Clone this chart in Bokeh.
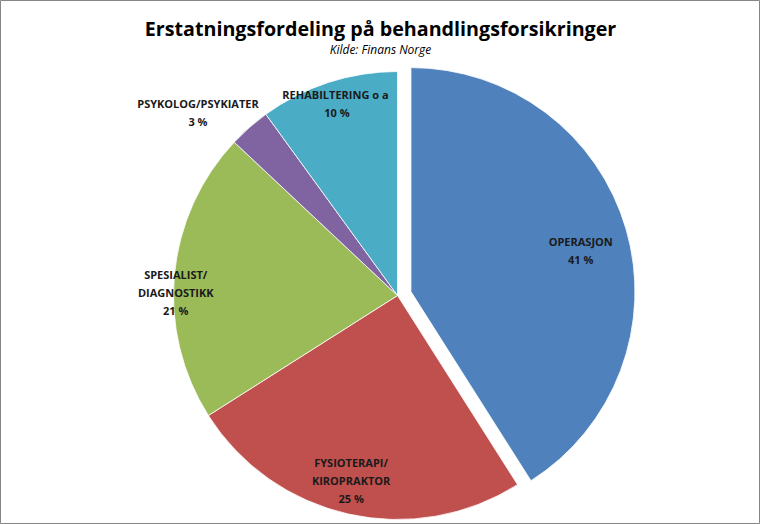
import math
from bokeh.plotting import figure
from bokeh.models import ColumnDataSource
from bokeh.core.properties import value
from bokeh.embed import file_html
from bokeh.resources import INLINE

# ---- data ----
categories = ["OPERASJON", "FYSIOTERAPI/\nKIROPRAKTOR", "SPESIALIST/\nDIAGNOSTIKK",
              "PSYKOLOG/PSYKIATER", "REHABILTERING  o a"]
shares = [41, 25, 21, 3, 10]
colors = ["#4F81BD", "#C0504D", "#9BBB59", "#8064A2", "#4BACC6"]
title_text = "Erstatningsfordeling på behandlingsforsikringer"
subtitle_text = "Kilde: Finans Norge"

# ---- layout (pixel space) ----
W, H = 760, 524
cx, cy, R = 397, H - 295, 224
explode = [14, 0, 0, 0, 0]
label_r = [0.78, 0.85, 0.99, 1.21, 0.90]
label_da = [-2.5, -1.5, 4.5, 6.0, -0.5]  # degrees

total = sum(shares)
starts, ends, xs, ys, lx, ly, labels = [], [], [], [], [], [], []
acc = 0.0
for i, s in enumerate(shares):
    a0 = math.pi / 2 - acc / total * 2 * math.pi
    acc += s
    a1 = math.pi / 2 - acc / total * 2 * math.pi
    mid = (a0 + a1) / 2
    ox = cx + explode[i] * math.cos(mid)
    oy = cy + explode[i] * math.sin(mid)
    starts.append(a0)
    ends.append(a1)
    xs.append(ox)
    ys.append(oy)
    la = mid + math.radians(label_da[i])
    lx.append(ox + label_r[i] * R * math.cos(la))
    ly.append(oy + label_r[i] * R * math.sin(la))
    labels.append(f"{categories[i]}\n{s} %")

src = ColumnDataSource(dict(x=xs, y=ys, start=starts, end=ends, color=colors,
                            lx=lx, ly=ly, label=labels))

p = figure(width=W, height=H, x_range=(0, W), y_range=(0, H),
           output_backend="svg", toolbar_location=None, min_border=0,
           background_fill_color="white", border_fill_color="white")
p.axis.visible = False
p.grid.visible = False
p.outline_line_color = "#868686"
p.outline_line_width = 1

p.wedge(x="x", y="y", radius=R, start_angle="start", end_angle="end",
        direction="clock", fill_color="color", line_color="white",
        line_width=0.8, source=src)

p.text(x="lx", y="ly", text="label", source=src, text_align="center",
       text_baseline="middle", text_font=value("Open Sans"),
       text_font_size="11px", text_font_style="bold", text_color="#1a1a1a",
       text_line_height=1.2)

p.text(x=[W / 2], y=[H - 27.5], text=[title_text], text_align="center",
       text_baseline="middle", text_font=value("Open Sans"),
       text_font_size="19.7px", text_font_style="bold", text_color="black")
p.text(x=[W / 2], y=[H - 49], text=[subtitle_text], text_align="center",
       text_baseline="middle", text_font=value("Open Sans"),
       text_font_size="12px", text_font_style="italic", text_color="black")

open("out.html", "w").write(file_html(p, INLINE))
